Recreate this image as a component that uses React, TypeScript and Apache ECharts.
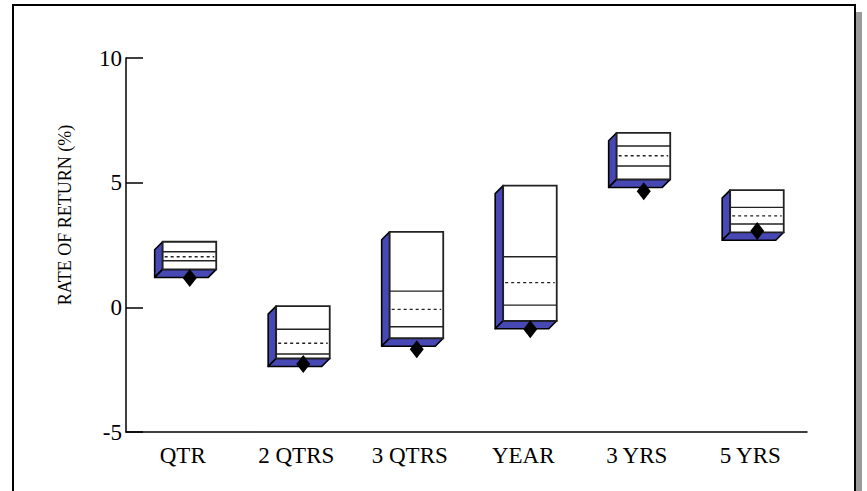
import React, { useEffect, useRef } from 'react';
import * as echarts from 'echarts';

const categories = ['QTR', '2 QTRS', '3 QTRS', 'YEAR', '3 YRS', '5 YRS'];
const pct5 = [2.63, 0.05, 3.03, 4.88, 7.0, 4.7];
const pct25 = [2.23, -0.88, 0.65, 2.03, 6.47, 4.01];
const median = [2.03, -1.44, -0.08, 0.99, 6.08, 3.67];
const pct75 = [1.87, -1.87, -0.78, 0.09, 5.67, 3.34];
const pct95 = [1.52, -2.05, -1.24, -0.54, 5.13, 3.01];
const portfolio = [1.18, -2.27, -1.68, -0.88, 4.66, 3.06];
const yTicks = [-5, 0, 5, 10];

const BLUE = '#4848b4';
const FONT = '"Liberation Serif", "Times New Roman", serif';

export default function App() {
  const ref = useRef<HTMLDivElement>(null);
  useEffect(() => {
    if (!ref.current) return;
    const chart = echarts.init(ref.current, null, { renderer: 'svg' });
    const boxData = categories.map((c, i) => [i, pct5[i], pct25[i], median[i], pct75[i], pct95[i]]);
    chart.setOption({
      animation: false,
      backgroundColor: '#fff',
      graphic: [
        { type: 'rect', z: -2, shape: { x: 20, y: 12, width: 842, height: 520 }, style: { fill: '#9a9a9a' } },
        { type: 'rect', z: -1, shape: { x: 13, y: 5, width: 842, height: 520 }, style: { fill: '#fff', stroke: '#000', lineWidth: 2 } },
        {
          type: 'text', x: 65, y: 215, rotation: Math.PI / 2,
          style: { text: 'RATE OF RETURN (%)', font: '18px ' + FONT, fill: '#000', textAlign: 'center', textVerticalAlign: 'middle' },
        },
      ],
      grid: { left: 126, right: 60, top: 58, bottom: 59 },
      xAxis: {
        type: 'category',
        data: categories,
        axisLine: { onZero: false, lineStyle: { color: '#000', width: 1.5 } },
        axisTick: { show: false },
        axisLabel: { color: '#000', fontFamily: FONT, fontSize: 23, margin: 12 },
        splitLine: { show: false },
      },
      yAxis: {
        type: 'value',
        min: yTicks[0],
        max: yTicks[yTicks.length - 1],
        interval: 5,
        axisLine: { show: true, lineStyle: { color: '#000', width: 1.5 } },
        axisTick: { show: true, inside: true, length: 17, lineStyle: { color: '#000', width: 1.5 } },
        axisLabel: { color: '#000', fontFamily: FONT, fontSize: 23, margin: 4 },
        splitLine: { show: false },
      },
      series: [
        {
          type: 'custom',
          data: boxData,
          encode: { x: 0, y: [1, 2, 3, 4, 5] },
          z: 2,
          renderItem: (params: any, api: any) => {
            const i = api.value(0);
            const band = api.size([1, 0])[0];
            const cx = api.coord([i, 0])[0];
            const fl = cx - band * 0.177;
            const fr = cx + band * 0.295;
            const yT = api.coord([i, api.value(1)])[1];
            const y25 = api.coord([i, api.value(2)])[1];
            const yM = api.coord([i, api.value(3)])[1];
            const y75 = api.coord([i, api.value(4)])[1];
            const yB = api.coord([i, api.value(5)])[1];
            const d = 8;
            const edge = { stroke: '#000', lineWidth: 1.6, lineJoin: 'round' };
            return {
              type: 'group',
              children: [
                { type: 'polygon', shape: { points: [[fl, yT], [fl - d, yT + d], [fl - d, yB + d], [fl, yB]] }, style: { fill: BLUE, ...edge } },
                { type: 'polygon', shape: { points: [[fl, yB], [fr, yB], [fr - d, yB + d], [fl - d, yB + d]] }, style: { fill: BLUE, ...edge } },
                { type: 'rect', shape: { x: fl, y: yT, width: fr - fl, height: yB - yT }, style: { fill: '#fff', stroke: '#222', lineWidth: 1.8 } },
                { type: 'line', shape: { x1: fl, y1: y25, x2: fr, y2: y25 }, style: { stroke: '#222', lineWidth: 1.4 } },
                { type: 'line', shape: { x1: fl + 2, y1: yM, x2: fr - 2, y2: yM }, style: { stroke: '#222', lineWidth: 1.4, lineDash: [3, 3] } },
                { type: 'line', shape: { x1: fl, y1: y75, x2: fr, y2: y75 }, style: { stroke: '#222', lineWidth: 1.4 } },
              ],
            };
          },
        },
        {
          type: 'scatter',
          data: portfolio,
          symbol: 'diamond',
          symbolSize: [14, 18],
          symbolOffset: [7, 0],
          itemStyle: { color: '#000', opacity: 1 },
          z: 5,
        },
      ],
    });
    return () => chart.dispose();
  }, []);
  return <div ref={ref} style={{ position: 'absolute', left: 0, top: 0, width: 867, height: 491 }} />;
}
